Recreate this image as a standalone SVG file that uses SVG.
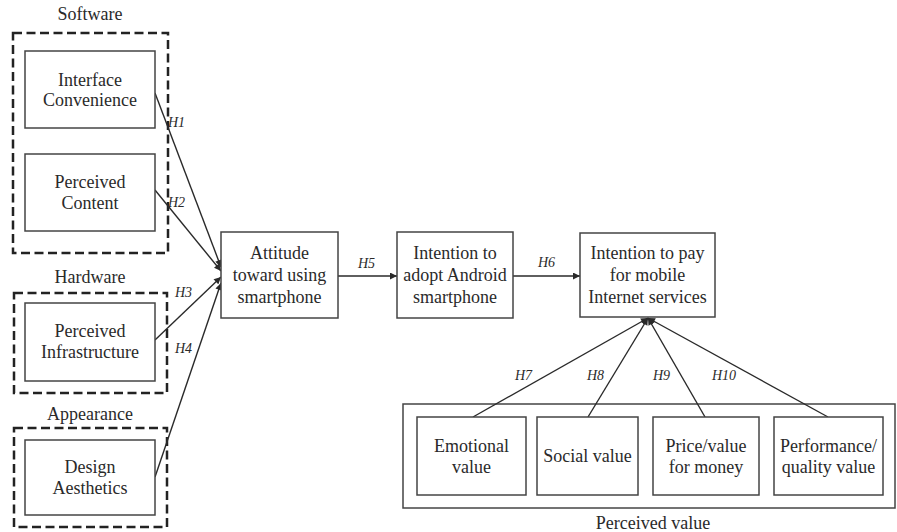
<svg xmlns="http://www.w3.org/2000/svg" width="897" height="532" viewBox="0 0 897 532">
<defs>
<marker id="arr" viewBox="0 0 10 10" refX="10" refY="5" markerWidth="8" markerHeight="7" markerUnits="userSpaceOnUse" orient="auto">
<path d="M0,0 L10,5 L0,10 z" fill="#2a2a2a"/>
</marker>
</defs>
<style>
text{font-family:'Liberation Serif','DejaVu Serif',serif;font-size:18px;fill:#2a2a2a;text-anchor:middle}
.box{fill:#fff;stroke:#444;stroke-width:1.5}
.dash{fill:none;stroke:#222;stroke-width:2.5;stroke-dasharray:9,4.5}
.con{stroke:#2a2a2a;stroke-width:1.4;fill:none;marker-end:url(#arr)}
.lbl{font-style:italic;font-size:14px;text-anchor:start}
</style>
<rect width="897" height="532" fill="#fff"/>

<g id="group-software" font-family="Liberation Serif">
<text x="90" y="20">Software</text>
<rect class="dash" x="13" y="33" width="155" height="220"/>
</g>
<g id="group-hardware">
<text x="90" y="283">Hardware</text>
<rect class="dash" x="14" y="293" width="153" height="100"/>
</g>
<g id="group-appearance">
<text x="90" y="420">Appearance</text>
<rect class="dash" x="14" y="428" width="153" height="99"/>
</g>
<g id="group-perceived-value">
<rect class="box" x="403" y="404" width="492" height="104"/>
<text x="653" y="529">Perceived value</text>
</g>

<g id="connectors">
<line class="con" x1="155" y1="93" x2="221" y2="267"/>
<line class="con" x1="155" y1="190" x2="221" y2="271"/>
<line class="con" x1="155" y1="340" x2="221" y2="277"/>
<line class="con" x1="155" y1="477" x2="221" y2="283"/>
<line class="con" x1="338" y1="276" x2="397" y2="276"/>
<line class="con" x1="513" y1="276" x2="580" y2="276"/>
<line class="con" x1="473" y1="417" x2="648" y2="318"/>
<line class="con" x1="588" y1="417" x2="648" y2="318"/>
<line class="con" x1="705" y1="417" x2="648" y2="318"/>
<line class="con" x1="828" y1="417" x2="648" y2="318"/>
<text class="lbl" x="168" y="127">H1</text>
<text class="lbl" x="168" y="207">H2</text>
<text class="lbl" x="175" y="297">H3</text>
<text class="lbl" x="175" y="353">H4</text>
<text class="lbl" x="358" y="268">H5</text>
<text class="lbl" x="538" y="267">H6</text>
<text class="lbl" x="515" y="380">H7</text>
<text class="lbl" x="587" y="380">H8</text>
<text class="lbl" x="653" y="380">H9</text>
<text class="lbl" x="712" y="380">H10</text>
</g>

<g id="interface-convenience">
<rect class="box" x="25" y="51" width="130" height="77"/>
<text x="90" y="86">Interface</text>
<text x="90" y="106">Convenience</text>
</g>
<g id="perceived-content">
<rect class="box" x="25" y="154" width="130" height="77"/>
<text x="90" y="188">Perceived</text>
<text x="90" y="209">Content</text>
</g>
<g id="perceived-infrastructure">
<rect class="box" x="25" y="303" width="130" height="78"/>
<text x="90" y="337">Perceived</text>
<text x="90" y="358">Infrastructure</text>
</g>
<g id="design-aesthetics">
<rect class="box" x="25" y="440" width="130" height="75"/>
<text x="90" y="473">Design</text>
<text x="90" y="494">Aesthetics</text>
</g>
<g id="attitude">
<rect class="box" x="221" y="232" width="117" height="86"/>
<text x="279.5" y="259">Attitude</text>
<text x="279.5" y="281">toward using</text>
<text x="279.5" y="303">smartphone</text>
</g>
<g id="intention-adopt">
<rect class="box" x="397" y="232" width="116" height="86"/>
<text x="455" y="259">Intention to</text>
<text x="455" y="281">adopt Android</text>
<text x="455" y="303">smartphone</text>
</g>
<g id="intention-pay">
<rect class="box" x="580" y="233" width="135" height="84"/>
<text x="647.5" y="259">Intention to pay</text>
<text x="647.5" y="281">for mobile</text>
<text x="647.5" y="303">Internet services</text>
</g>
<g id="emotional-value">
<rect class="box" x="417" y="417" width="109" height="78"/>
<text x="471.5" y="452">Emotional</text>
<text x="471.5" y="473">value</text>
</g>
<g id="social-value">
<rect class="box" x="537" y="417" width="101" height="78"/>
<text x="587.5" y="462">Social value</text>
</g>
<g id="price-value">
<rect class="box" x="653" y="417" width="106" height="78"/>
<text x="706" y="452">Price/value</text>
<text x="706" y="473">for money</text>
</g>
<g id="performance-value">
<rect class="box" x="774" y="417" width="109" height="78"/>
<text x="828.5" y="452">Performance/</text>
<text x="828.5" y="473">quality value</text>
</g>
</svg>
